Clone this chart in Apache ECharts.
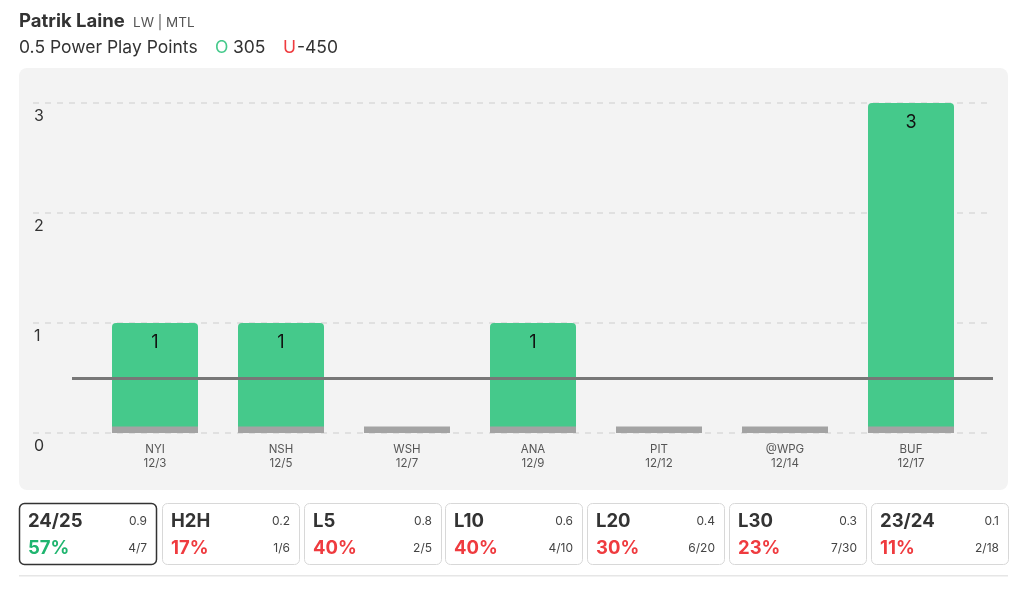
<!DOCTYPE html>
<html><head><meta charset="utf-8">
<script src="https://cdn.jsdelivr.net/npm/echarts@6/dist/echarts.min.js"></script>
<style>html,body{margin:0;padding:0;background:#fff}#c{width:1024px;height:589px}</style>
</head><body><div id="c"></div>
<script>
const opponents = ['NYI','NSH','WSH','ANA','PIT','@WPG','BUF'];
const dates = ['12/3','12/5','12/7','12/9','12/12','12/14','12/17'];
const values = [1,1,0,1,0,0,3];
const yTicks = [0,1,2,3];
const line = 0.5;
const player = 'Patrik Laine';
const playerInfo = 'LW | MTL';
const propLabel = '0.5 Power Play Points';
const overOdds = '305';
const underOdds = '-450';
const cardTitles = ['24/25','H2H','L5','L10','L20','L30','23/24'];
const cardAvgs = ['0.9','0.2','0.8','0.6','0.4','0.3','0.1'];
const cardPcts = ['57%','17%','40%','40%','30%','23%','11%'];
const cardFracs = ['4/7','1/6','2/5','4/10','6/20','7/30','2/18'];
const cardHit = [true,false,false,false,false,false,false];

const GREEN = '#45c98b', RED = '#ef3b3f', FONT = 'Inter, "Noto Sans", sans-serif';
const BASE_H = 0.06;
const chart = echarts.init(document.getElementById('c'), null, {renderer:'canvas'});

const graphics = [
  {type:'rect', shape:{x:19,y:68,width:989,height:422,r:8}, style:{fill:'#f3f3f3'}, z:-10},
  {type:'text', left:19, top:12, style:{text:player, font:'bold 18.5px '+FONT, fill:'#333'}},
  {type:'text', left:133, top:16, style:{text:playerInfo, font:'13.5px '+FONT, fill:'#555'}},
  {type:'text', left:19, top:39, style:{text:propLabel, font:'17.5px '+FONT, fill:'#333'}},
  {type:'text', left:215, top:39, style:{text:'O', font:'17.5px '+FONT, fill:GREEN}},
  {type:'text', left:233, top:39, style:{text:overOdds, font:'17.5px '+FONT, fill:'#333'}},
  {type:'text', left:283, top:39, style:{text:'U', font:'17.5px '+FONT, fill:RED}},
  {type:'text', left:297, top:39, style:{text:underOdds, font:'17.5px '+FONT, fill:'#333'}},
  {type:'rect', shape:{x:19,y:575,width:989,height:1.5}, style:{fill:'#e6e6e6'}}
];
const cardX = [19,162,304,445,587,729,871];
const cardW = 137;
cardTitles.forEach((t,i)=>{
  const x = cardX[i];
  graphics.push({type:'rect', shape:{x:x+0.5,y:503.5,width:cardW,height:61,r:5},
    style:{fill:'#fff', stroke: i===0?'#333':'#d8d8d8', lineWidth: i===0?1.5:1}});
  graphics.push({type:'text', x:x+9, y:521, style:{text:t, font:'bold 18.5px '+FONT, fill:'#333', verticalAlign:'middle'}});
  graphics.push({type:'text', x:x+cardW-9, y:521, style:{text:cardAvgs[i], font:'12px '+FONT, fill:'#444', align:'right', verticalAlign:'middle'}});
  graphics.push({type:'text', x:x+9, y:548, style:{text:cardPcts[i], font:'bold 18.5px '+FONT, fill: cardHit[i]?'#1fb56f':RED, verticalAlign:'middle'}});
  graphics.push({type:'text', x:x+cardW-9, y:548, style:{text:cardFracs[i], font:'12px '+FONT, fill:'#444', align:'right', verticalAlign:'middle'}});
});

chart.setOption({
  animation:false,
  graphic: graphics,
  grid:[
    {left:92, right:50, top:103, bottom:156},
    {left:33, right:31, top:103, bottom:156},
    {left:72, right:31, top:103, bottom:156}
  ],
  xAxis:[
    {type:'category', gridIndex:0, data:opponents, axisLine:{show:false}, axisTick:{show:false},
     axisLabel:{margin:10, interval:0, formatter:(v,i)=>'{a|'+v+'}\n{a|'+dates[i]+'}',
       rich:{a:{fontSize:11.5, color:'#555', lineHeight:14, fontFamily:FONT}}}},
    {type:'value', gridIndex:1, show:false, min:0, max:1},
    {type:'value', gridIndex:2, show:false, min:0, max:1}
  ],
  yAxis:[
    {type:'value', gridIndex:0, min:0, max:3, interval:1, show:false},
    {type:'value', gridIndex:1, min:yTicks[0], max:yTicks[yTicks.length-1], interval:1,
     axisLine:{show:false}, axisTick:{show:false},
     splitLine:{show:true, lineStyle:{color:'#dadada', type:[6,6], width:1.5}},
     axisLabel:{inside:true, margin:1, verticalAlign:'top', padding:[5,0,0,0], fontSize:16, color:'#333', fontFamily:FONT}},
    {type:'value', gridIndex:2, min:0, max:3, show:false}
  ],
  series:[
    {type:'bar', xAxisIndex:0, yAxisIndex:0, data:values, barWidth:86,
     itemStyle:{color:GREEN, borderRadius:[4,4,0,0]},
     label:{show:true, position:'insideTop', distance:11, fontSize:18, color:'#111', fontFamily:FONT,
       formatter:p=>p.value>0?String(p.value):''}},
    {type:'bar', xAxisIndex:0, yAxisIndex:0, data:opponents.map(()=>BASE_H), barWidth:86, barGap:'-100%',
     itemStyle:{color:'#a3a3a3'}, z:3},
    {type:'line', xAxisIndex:2, yAxisIndex:2, data:[], symbol:'none',
     markLine:{silent:true, symbol:'none', label:{show:false},
       lineStyle:{color:'#777', width:3, type:'solid'}, data:[{yAxis:line}]}}
  ]
});
</script></body></html>
